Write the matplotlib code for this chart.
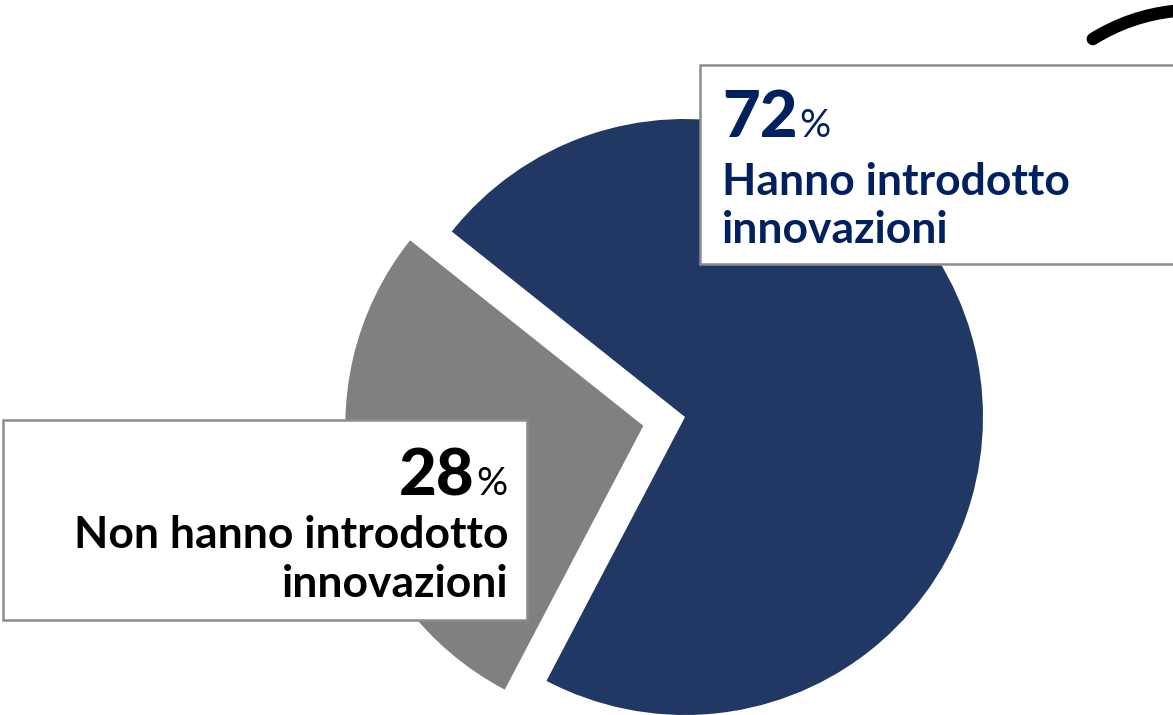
import matplotlib
matplotlib.use("Agg")
import matplotlib.pyplot as plt
from matplotlib.patches import Rectangle, Arc

# Share of companies that introduced innovations
labels = ["Hanno introdotto\ninnovazioni", "Non hanno introdotto\ninnovazioni"]
shares = [72, 28]
colors = ["#213864", "#808080"]
text_colors = ["#002060", "#000000"]

W, H = 1173, 715
fig = plt.figure(figsize=(W / 100, H / 100), dpi=100)
ax = fig.add_axes([0, 0, 1, 1])

# pixel-like coordinates, y up
cx, cy, r = 685, H - 417, 298
ax.pie(shares, colors=colors, radius=r, center=(cx, cy), startangle=242.3,
       counterclock=True, explode=[0, 42.6], wedgeprops=dict(linewidth=0))
ax.set_xlim(0, W)
ax.set_ylim(0, H)
ax.set_aspect("auto")
ax.axis("off")

# label boxes
ax.add_patch(Rectangle((700, H - 264), 520, 199, facecolor="white",
                       edgecolor="#8c8c8c", linewidth=1.8, zorder=3))
ax.add_patch(Rectangle((3, H - 620), 524, 200, facecolor="white",
                       edgecolor="#8c8c8c", linewidth=1.8, zorder=3))

# curved stroke in the top right corner
ax.add_patch(Arc((1194, 514), 382, 382, theta1=70, theta2=122,
                 color="black", linewidth=9, capstyle="round", zorder=4))

font = "Lato"
renderer = fig.canvas.get_renderer()

# 72% label, left aligned
t = ax.text(722, H - 137, f"{shares[0]}", fontsize=47, fontweight="black",
            color=text_colors[0], family=font, ha="left", va="baseline", zorder=5)
bb = t.get_window_extent(renderer)
ax.text(bb.x1 + 2, H - 137, "%", fontsize=28, color=text_colors[0],
        family=font, ha="left", va="baseline", zorder=5)
ax.text(722, H - 195, labels[0].split("\n")[0], fontsize=32, fontweight="bold",
        color=text_colors[0], family=font, ha="left", va="baseline", zorder=5)
ax.text(722, H - 243, labels[0].split("\n")[1], fontsize=32, fontweight="bold",
        color=text_colors[0], family=font, ha="left", va="baseline", zorder=5)

# 28% label, right aligned
p = ax.text(508, H - 495, "%", fontsize=28, color=text_colors[1],
            family=font, ha="right", va="baseline", zorder=5)
pb = p.get_window_extent(renderer)
ax.text(pb.x0 - 2, H - 495, f"{shares[1]}", fontsize=47, fontweight="black",
        color=text_colors[1], family=font, ha="right", va="baseline", zorder=5)
ax.text(508, H - 548, labels[1].split("\n")[0], fontsize=32, fontweight="bold",
        color=text_colors[1], family=font, ha="right", va="baseline", zorder=5)
ax.text(508, H - 597, labels[1].split("\n")[1], fontsize=32, fontweight="bold",
        color=text_colors[1], family=font, ha="right", va="baseline", zorder=5)

fig.savefig("out.png", dpi=100)
